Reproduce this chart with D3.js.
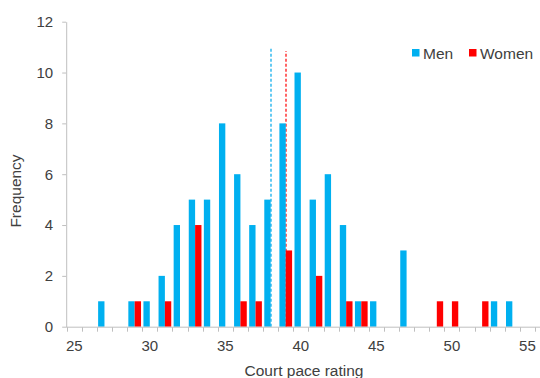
<!DOCTYPE html>
<html>
<head>
<meta charset="utf-8">
<script src="https://cdn.jsdelivr.net/npm/d3@7"></script>
<style>
  body { margin: 0; background: #fff; }
  svg { display: block; font-family: "Liberation Sans", Arial, sans-serif; }
</style>
</head>
<body>
<div id="chart"></div>
<script>
var W = 540, H = 378
var margin = { top: 21.7, right: 5, bottom: 51.3, left: 66.7 }

// court pace rating categories, 25 .. 55
var ratings = [25, 26, 27, 28, 29, 30, 31, 32, 33, 34, 35, 36, 37, 38, 39, 40,
               41, 42, 43, 44, 45, 46, 47, 48, 49, 50, 51, 52, 53, 54, 55]
var men   = [0, 0, 1, 0, 1, 1, 2, 4, 5, 5, 8, 6, 4, 5, 8, 10,
             5, 6, 4, 1, 1, 0, 3, 0, 0, 0, 0, 0, 1, 1, 0]
var women = [0, 0, 0, 0, 1, 0, 1, 0, 4, 0, 0, 1, 1, 0, 3, 0,
             2, 0, 1, 1, 0, 0, 0, 0, 1, 1, 0, 1, 0, 0, 0]
var xTickLabels = [25, 30, 35, 40, 45, 50, 55]
var yTicks = [0, 2, 4, 6, 8, 10, 12]
var seriesNames = ["Men", "Women"]
var colors = ["#00B0F0", "#FF0000"]
var meanLineColors = ["#3FBDEF", "#FF4040"]
var meanValues = [38.0, 39.0]     // dashed average lines
var meanTops = [10.95, 10.85]

var svg = d3.select("#chart").append("svg")
    .attr("width", W)
    .attr("height", H)

var x = d3.scaleBand()
    .domain(ratings)
    .range([margin.left, 535])
    .paddingInner(0).paddingOuter(0)

var xs = d3.scaleBand()
    .domain(seriesNames)
    .range([0, x.bandwidth()])
    .paddingOuter(0.19)

var xv = d3.scaleLinear()
    .domain([25, 55])
    .range([x(25) + x.bandwidth() / 2, x(55) + x.bandwidth() / 2])

var y = d3.scaleLinear()
    .domain([0, 12])
    .range([326.7, margin.top])

// mean lines (behind bars)
svg.selectAll(".mean")
    .data(meanValues)
    .enter().append("line")
    .attr("class", "mean")
    .attr("x1", function(d) { return Math.round(xv(d)) })
    .attr("x2", function(d) { return Math.round(xv(d)) })
    .attr("y1", y(0))
    .attr("y2", function(d, i) { return y(meanTops[i]) })
    .attr("stroke", function(d, i) { return meanLineColors[i] })
    .attr("stroke-width", 1.6)
    .attr("stroke-dasharray", "3,2")

// bars
var series = [men, women]
series.forEach(function(vals, si) {
    svg.append("g").selectAll("rect")
        .data(ratings.map(function(r, i) { return { r: r, v: vals[i] } })
              .filter(function(d) { return d.v > 0 }))
        .enter().append("rect")
        .attr("x", function(d) { return x(d.r) + xs(seriesNames[si]) })
        .attr("width", xs.bandwidth())
        .attr("y", function(d) { return y(d.v) })
        .attr("height", function(d) { return y(0) - y(d.v) })
        .attr("fill", colors[si])
})

// y axis
var yAxis = svg.append("g")
    .attr("transform", "translate(" + (margin.left - 0.5) + ",0)")
    .call(d3.axisLeft(y).tickValues(yTicks).tickSize(4).tickSizeOuter(0).tickPadding(9))
yAxis.select(".domain").attr("stroke", "#BFBFBF")
yAxis.selectAll(".tick line").attr("stroke", "#BFBFBF")
yAxis.selectAll("text")
    .attr("font-size", "15px")
    .attr("fill", "#404040")
    .attr("font-family", "Liberation Sans, Arial, sans-serif")

// x axis
var xAxis = svg.append("g")
    .attr("transform", "translate(0," + y(0) + ")")
xAxis.append("line")
    .attr("x1", margin.left - 0.5).attr("x2", W)
    .attr("y1", 0.5).attr("y2", 0.5)
    .attr("stroke", "#BFBFBF")
var bounds = ratings.map(function(r) { return x(r) }).concat([x(55) + x.bandwidth()])
xAxis.selectAll(".xt")
    .data(bounds)
    .enter().append("line")
    .attr("x1", function(d) { return Math.round(d) + 0.5 })
    .attr("x2", function(d) { return Math.round(d) + 0.5 })
    .attr("y1", 0.5).attr("y2", 5)
    .attr("stroke", "#BFBFBF")
xAxis.selectAll(".xl")
    .data(xTickLabels)
    .enter().append("text")
    .attr("x", function(d) { return x(d) + x.bandwidth() / 2 })
    .attr("y", 24)
    .attr("text-anchor", "middle")
    .attr("font-size", "15px")
    .attr("fill", "#404040")
    .text(function(d) { return d })

// axis titles
svg.append("text")
    .attr("x", 304)
    .attr("y", 376)
    .attr("text-anchor", "middle")
    .attr("font-size", "15.5px")
    .attr("fill", "#404040")
    .text("Court pace rating")

svg.append("text")
    .attr("transform", "translate(20.5,191) rotate(-90)")
    .attr("text-anchor", "middle")
    .attr("font-size", "15.5px")
    .attr("fill", "#404040")
    .text("Frequency")

// legend
var legX = [412, 469]
var legend = svg.append("g")
seriesNames.forEach(function(name, i) {
    legend.append("rect")
        .attr("x", legX[i]).attr("y", 49)
        .attr("width", 7.5).attr("height", 7.5)
        .attr("fill", colors[i])
    legend.append("text")
        .attr("x", legX[i] + 11)
        .attr("y", 58.5)
        .attr("font-size", "15.5px")
        .attr("fill", "#404040")
        .text(name)
})
</script>
</body>
</html>
